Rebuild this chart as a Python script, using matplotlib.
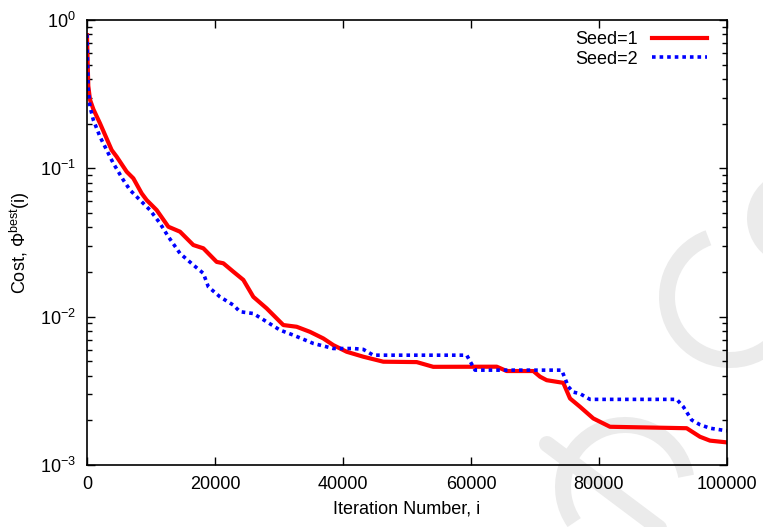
import matplotlib
matplotlib.use("Agg")
import matplotlib.pyplot as plt
from matplotlib.ticker import LogLocator, LogFormatterMathtext, MultipleLocator, NullFormatter
from matplotlib.patches import Arc

plt.rcParams['font.family'] = ['Liberation Sans', 'DejaVu Sans']
plt.rcParams['mathtext.fontset'] = 'custom'
plt.rcParams['mathtext.rm'] = 'Liberation Sans'
plt.rcParams['mathtext.it'] = 'Liberation Sans:italic'
plt.rcParams['mathtext.bf'] = 'Liberation Sans:bold'

# Data
seed1_iter = [0, 60, 200, 469, 1000, 2031, 3854, 4635, 6198, 7240, 8542, 9323, 10885,
              12708, 14531, 16615, 18177, 20260, 21302, 22865, 24427, 25990, 28073,
              30677, 32760, 34844, 36927, 38490, 40573, 43177, 46300, 51520, 54100,
              64020, 65580, 69740, 70780, 71830, 74420, 75470, 77030, 79110, 81720,
              93700, 95780, 97340, 100000]
seed1_cost = [0.79, 0.60, 0.36, 0.29, 0.25, 0.201, 0.1328, 0.1198, 0.0949, 0.0856, 0.0678, 0.0611, 0.0523,
              0.0404, 0.0374, 0.0304, 0.0289, 0.0234, 0.0229, 0.0201, 0.0177, 0.0136, 0.01137,
              0.00878, 0.00855, 0.0079, 0.00713, 0.00643, 0.0058, 0.00537, 0.00497, 0.00494, 0.00459,
              0.0046, 0.0043, 0.0043, 0.00394, 0.00373, 0.00358, 0.00281, 0.00247, 0.00206, 0.00181,
              0.00177, 0.00155, 0.00146, 0.00142]

seed2_iter = [0, 60, 200, 469, 990, 2031, 3073, 4115, 5677, 6719, 8281, 9844, 11406,
              12708, 14531, 16615, 18177, 18958, 20781, 22865, 23906, 25990, 28073,
              30156, 32240, 35365, 38490, 41615, 43170, 44730, 59330, 60630, 74170,
              75210, 75990, 77000, 78590, 92140, 93180, 94480, 95780, 97340, 100000]
seed2_cost = [0.80, 0.58, 0.34, 0.26, 0.212, 0.1633, 0.1328, 0.108, 0.0834, 0.0714, 0.0611, 0.0523, 0.0426,
              0.0346, 0.0267, 0.0223, 0.0196, 0.0159, 0.0136, 0.01197, 0.0108, 0.0105, 0.00924,
              0.00812, 0.00751, 0.0066, 0.0061, 0.0061, 0.00602, 0.0055, 0.0055, 0.00436, 0.00436,
              0.00337, 0.0031, 0.00303, 0.00277, 0.00277, 0.00247, 0.00201, 0.00187, 0.00177, 0.0017]

W, H = 763, 527
fig = plt.figure(figsize=(W / 100, H / 100), dpi=100)

# faint background watermark (pixel coordinates overlay)
bg = fig.add_axes([0, 0, 1, 1], zorder=-1)
bg.set_xlim(0, W)
bg.set_ylim(H, 0)
bg.axis('off')
wm = '#ebebeb'
wlw = 11.5
bg.plot([547, 675], [444, 540], color=wm, lw=wlw, solid_capstyle='round')
bg.add_patch(Arc((625, 487), 124, 124, theta1=145, theta2=350, color=wm, lw=wlw))
bg.add_patch(Arc((730, 297), 126, 126, theta1=50, theta2=250, color=wm, lw=wlw))
bg.add_patch(Arc((795, 218), 80, 80, theta1=110, theta2=240, color=wm, lw=wlw))

ax = fig.add_axes([87 / W, 1 - 465 / H, 640 / W, 445 / H])
ax.patch.set_alpha(0)

ax.plot(seed1_iter, seed1_cost, color='#ff0000', lw=3.0, label='Seed=1', solid_joinstyle='round')
ax.plot(seed2_iter, seed2_cost, color='#0000ff', lw=2.6, linestyle=(0, (1, 1.1)), label='Seed=2')

ax.set_yscale('log')
ax.set_xlim(0, 100000)
ax.set_ylim(1e-3, 1)
ax.xaxis.set_major_locator(MultipleLocator(20000))
ax.yaxis.set_major_locator(LogLocator(base=10, numticks=10))
ax.yaxis.set_major_formatter(LogFormatterMathtext())
ax.yaxis.set_minor_locator(LogLocator(base=10, subs=range(2, 10), numticks=20))
ax.yaxis.set_minor_formatter(NullFormatter())

fs = 13
ax.tick_params(which='both', direction='in', top=True, right=True, labelsize=fs, colors='black')
ax.tick_params(which='major', length=6, width=1)
ax.tick_params(axis='x', which='major', pad=8)
ax.tick_params(axis='y', which='major', pad=8)
ax.tick_params(which='minor', length=3.5, width=1)
for s in ax.spines.values():
    s.set_linewidth(1.2)

ax.set_xlabel('Iteration Number, i', fontsize=fs, labelpad=5)
ax.set_ylabel(r'Cost, $\Phi^{\mathrm{best}}$(i)', fontsize=fs, labelpad=6)

ax.legend(loc='upper right', frameon=False, markerfirst=False, fontsize=fs,
          handlelength=3.0, handletextpad=0.8, labelspacing=0.15,
          borderaxespad=0.2, bbox_to_anchor=(0.985, 1.0))

fig.savefig('out.png', dpi=100)
